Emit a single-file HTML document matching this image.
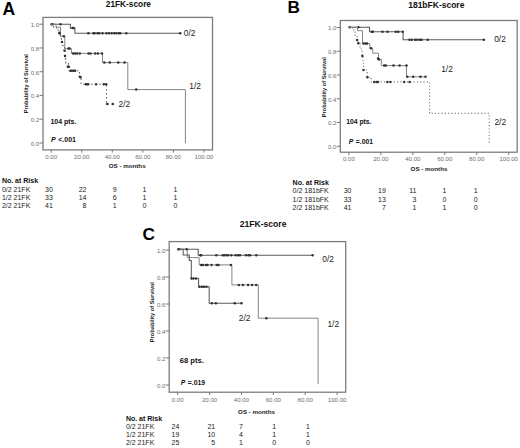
<!DOCTYPE html>
<html><head><meta charset="utf-8"><style>
html,body{margin:0;padding:0;background:#fff;}
body{width:520px;height:448px;overflow:hidden;}
svg{display:block;font-family:"Liberation Sans", sans-serif;}
</style></head><body>
<svg width="520" height="448" viewBox="0 0 520 448">
<rect width="520" height="448" fill="#fff"/>
<rect x="43" y="17.4" width="169.5" height="132.5" fill="none" stroke="#7c7c7c" stroke-width="1.3"/>
<line x1="39.5" y1="143.00" x2="43" y2="143.00" stroke="#777" stroke-width="1"/>
<text x="39.2" y="145.90" font-size="6.1" font-weight="normal" font-style="normal" text-anchor="end" fill="#6e6e6e" >0.0</text>
<line x1="39.5" y1="119.24" x2="43" y2="119.24" stroke="#777" stroke-width="1"/>
<text x="39.2" y="122.14" font-size="6.1" font-weight="normal" font-style="normal" text-anchor="end" fill="#6e6e6e" >0.2</text>
<line x1="39.5" y1="95.48" x2="43" y2="95.48" stroke="#777" stroke-width="1"/>
<text x="39.2" y="98.38" font-size="6.1" font-weight="normal" font-style="normal" text-anchor="end" fill="#6e6e6e" >0.4</text>
<line x1="39.5" y1="71.72" x2="43" y2="71.72" stroke="#777" stroke-width="1"/>
<text x="39.2" y="74.62" font-size="6.1" font-weight="normal" font-style="normal" text-anchor="end" fill="#6e6e6e" >0.6</text>
<line x1="39.5" y1="47.96" x2="43" y2="47.96" stroke="#777" stroke-width="1"/>
<text x="39.2" y="50.86" font-size="6.1" font-weight="normal" font-style="normal" text-anchor="end" fill="#6e6e6e" >0.8</text>
<line x1="39.5" y1="24.20" x2="43" y2="24.20" stroke="#777" stroke-width="1"/>
<text x="39.2" y="27.10" font-size="6.1" font-weight="normal" font-style="normal" text-anchor="end" fill="#6e6e6e" >1.0</text>
<line x1="51.20" y1="149.9" x2="51.20" y2="152.70000000000002" stroke="#777" stroke-width="1"/>
<text x="51.20" y="158.60" font-size="6.1" font-weight="normal" font-style="normal" text-anchor="middle" fill="#6e6e6e" >0.00</text>
<line x1="81.74" y1="149.9" x2="81.74" y2="152.70000000000002" stroke="#777" stroke-width="1"/>
<text x="81.74" y="158.60" font-size="6.1" font-weight="normal" font-style="normal" text-anchor="middle" fill="#6e6e6e" >20.00</text>
<line x1="112.28" y1="149.9" x2="112.28" y2="152.70000000000002" stroke="#777" stroke-width="1"/>
<text x="112.28" y="158.60" font-size="6.1" font-weight="normal" font-style="normal" text-anchor="middle" fill="#6e6e6e" >40.00</text>
<line x1="142.82" y1="149.9" x2="142.82" y2="152.70000000000002" stroke="#777" stroke-width="1"/>
<text x="142.82" y="158.60" font-size="6.1" font-weight="normal" font-style="normal" text-anchor="middle" fill="#6e6e6e" >60.00</text>
<line x1="173.36" y1="149.9" x2="173.36" y2="152.70000000000002" stroke="#777" stroke-width="1"/>
<text x="173.36" y="158.60" font-size="6.1" font-weight="normal" font-style="normal" text-anchor="middle" fill="#6e6e6e" >80.00</text>
<line x1="203.90" y1="149.9" x2="203.90" y2="152.70000000000002" stroke="#777" stroke-width="1"/>
<text x="203.90" y="158.60" font-size="6.1" font-weight="normal" font-style="normal" text-anchor="middle" fill="#6e6e6e" >100.00</text>
<text x="26.4" y="83.7" font-size="5.6" font-weight="bold" font-style="normal" text-anchor="middle" fill="#222" transform="rotate(-90 26.4 83.7)" dy="1.96">Probability of Survival</text>
<text x="108.8" y="168.4" font-size="6.2" font-weight="bold" font-style="normal" text-anchor="start" fill="#222" >OS - months</text>
<text x="105.8" y="6.9" font-size="8.3" font-weight="bold" font-style="normal" text-anchor="start" fill="#111" >21FK-score</text>
<text x="2.6" y="14.8" font-size="17.5" font-weight="bold" font-style="normal" text-anchor="start" fill="#000" >A</text>
<text x="50.4" y="124.0" font-size="7.0" font-weight="bold" font-style="normal" text-anchor="start" fill="#111" >104 pts.</text>
<text x="51.0" y="141.9" font-size="7.0" font-weight="bold" fill="#111"><tspan font-style="italic">P</tspan><tspan dx="0.6">&#160;&lt;.001</tspan></text>
<path d="M51.3,24.2 H70.4 V28.1 H74.9 V33.2 H180.2" fill="none" stroke="#5a5a5a" stroke-width="1.05"/>
<circle cx="51.60" cy="24.20" r="1.25" fill="#333"/>
<circle cx="52.80" cy="24.20" r="1.25" fill="#333"/>
<circle cx="60.50" cy="24.20" r="1.25" fill="#333"/>
<circle cx="72.60" cy="28.10" r="1.25" fill="#333"/>
<circle cx="73.60" cy="28.10" r="1.25" fill="#333"/>
<circle cx="88.30" cy="33.20" r="1.25" fill="#333"/>
<circle cx="93.50" cy="33.20" r="1.25" fill="#333"/>
<circle cx="94.60" cy="33.20" r="1.25" fill="#333"/>
<circle cx="97.50" cy="33.20" r="1.25" fill="#333"/>
<circle cx="99.20" cy="33.20" r="1.25" fill="#333"/>
<circle cx="102.50" cy="33.20" r="1.25" fill="#333"/>
<circle cx="106.40" cy="33.20" r="1.25" fill="#333"/>
<circle cx="109.00" cy="33.20" r="1.25" fill="#333"/>
<circle cx="111.70" cy="33.20" r="1.25" fill="#333"/>
<circle cx="114.20" cy="33.20" r="1.25" fill="#333"/>
<circle cx="116.30" cy="33.20" r="1.25" fill="#333"/>
<circle cx="118.60" cy="33.20" r="1.25" fill="#333"/>
<circle cx="120.20" cy="33.20" r="1.25" fill="#333"/>
<circle cx="126.30" cy="33.20" r="1.25" fill="#333"/>
<circle cx="180.20" cy="33.20" r="1.25" fill="#333"/>
<path d="M51.3,24.2 H56 V27.2 H60.5 V36.2 H64.8 V48.6 H71.4 V53.4 H102.5 V62.6 H127.8 V89.6 H185.4 V143.3" fill="none" stroke="#858585" stroke-width="1"/>
<circle cx="63.80" cy="36.20" r="1.25" fill="#333"/>
<circle cx="68.50" cy="48.60" r="1.25" fill="#333"/>
<circle cx="69.50" cy="48.60" r="1.25" fill="#333"/>
<circle cx="73.10" cy="53.40" r="1.25" fill="#333"/>
<circle cx="75.10" cy="53.40" r="1.25" fill="#333"/>
<circle cx="77.10" cy="53.40" r="1.25" fill="#333"/>
<circle cx="79.80" cy="53.40" r="1.25" fill="#333"/>
<circle cx="88.50" cy="53.40" r="1.25" fill="#333"/>
<circle cx="90.50" cy="53.40" r="1.25" fill="#333"/>
<circle cx="95.20" cy="53.40" r="1.25" fill="#333"/>
<circle cx="97.90" cy="53.40" r="1.25" fill="#333"/>
<circle cx="101.90" cy="53.40" r="1.25" fill="#333"/>
<circle cx="104.30" cy="62.60" r="1.25" fill="#333"/>
<circle cx="109.80" cy="62.60" r="1.25" fill="#333"/>
<circle cx="118.20" cy="62.60" r="1.25" fill="#333"/>
<circle cx="124.50" cy="62.60" r="1.25" fill="#333"/>
<circle cx="136.20" cy="89.60" r="1.25" fill="#333"/>
<path d="M51.3,24.2 H53.5 V27 H56.5 V30 H59.3 V33 H60.5 V36.2 H61.4 V40 H62.3 V45.5 H64.5 V50.4 H65 V56.2 H65.4 V59.3 H65.7 V63.4 H68.4 V66.7 H69 V70.8 H79.5 V76.8 H81.1 V84.3 H106.5 V104 H112.8" fill="none" stroke="#666" stroke-width="1.1" stroke-dasharray="1.6,2.4"/>
<circle cx="59.30" cy="32.70" r="1.25" fill="#333"/>
<circle cx="59.80" cy="33.50" r="1.25" fill="#333"/>
<circle cx="62.00" cy="42.00" r="1.25" fill="#333"/>
<circle cx="64.50" cy="50.50" r="1.25" fill="#333"/>
<circle cx="65.00" cy="56.00" r="1.25" fill="#333"/>
<circle cx="67.80" cy="66.70" r="1.25" fill="#333"/>
<circle cx="68.80" cy="66.70" r="1.25" fill="#333"/>
<circle cx="70.50" cy="70.80" r="1.25" fill="#333"/>
<circle cx="72.00" cy="70.80" r="1.25" fill="#333"/>
<circle cx="74.00" cy="70.80" r="1.25" fill="#333"/>
<circle cx="75.00" cy="70.80" r="1.25" fill="#333"/>
<circle cx="79.80" cy="76.80" r="1.25" fill="#333"/>
<circle cx="80.50" cy="77.20" r="1.25" fill="#333"/>
<circle cx="85.80" cy="84.30" r="1.25" fill="#333"/>
<circle cx="86.80" cy="84.30" r="1.25" fill="#333"/>
<circle cx="88.20" cy="84.30" r="1.25" fill="#333"/>
<circle cx="96.10" cy="84.30" r="1.25" fill="#333"/>
<circle cx="103.80" cy="84.30" r="1.25" fill="#333"/>
<circle cx="106.20" cy="84.30" r="1.25" fill="#333"/>
<circle cx="107.20" cy="104.00" r="1.25" fill="#333"/>
<circle cx="112.80" cy="104.00" r="1.25" fill="#333"/>
<text x="183.8" y="36.2" font-size="8.4" font-weight="normal" font-style="normal" text-anchor="start" fill="#222" >0/2</text>
<text x="189.3" y="89.4" font-size="8.4" font-weight="normal" font-style="normal" text-anchor="start" fill="#222" >1/2</text>
<text x="118.5" y="107.2" font-size="8.4" font-weight="normal" font-style="normal" text-anchor="start" fill="#222" >2/2</text>
<text x="1.9" y="183.4" font-size="7.0" font-weight="bold" font-style="normal" text-anchor="start" fill="#111" >No. at Risk</text>
<text x="1.9" y="191.70" font-size="7.0" font-weight="normal" font-style="normal" text-anchor="start" fill="#222" >0/2 21FK</text>
<text x="52.9" y="191.70" font-size="7.0" font-weight="normal" font-style="normal" text-anchor="end" fill="#222" >30</text>
<text x="86.5" y="191.70" font-size="7.0" font-weight="normal" font-style="normal" text-anchor="end" fill="#222" >22</text>
<text x="116.6" y="191.70" font-size="7.0" font-weight="normal" font-style="normal" text-anchor="end" fill="#222" >9</text>
<text x="146.3" y="191.70" font-size="7.0" font-weight="normal" font-style="normal" text-anchor="end" fill="#222" >1</text>
<text x="177.3" y="191.70" font-size="7.0" font-weight="normal" font-style="normal" text-anchor="end" fill="#222" >1</text>
<text x="1.9" y="200.00" font-size="7.0" font-weight="normal" font-style="normal" text-anchor="start" fill="#222" >1/2 21FK</text>
<text x="52.9" y="200.00" font-size="7.0" font-weight="normal" font-style="normal" text-anchor="end" fill="#222" >33</text>
<text x="86.5" y="200.00" font-size="7.0" font-weight="normal" font-style="normal" text-anchor="end" fill="#222" >14</text>
<text x="116.6" y="200.00" font-size="7.0" font-weight="normal" font-style="normal" text-anchor="end" fill="#222" >6</text>
<text x="146.3" y="200.00" font-size="7.0" font-weight="normal" font-style="normal" text-anchor="end" fill="#222" >1</text>
<text x="177.3" y="200.00" font-size="7.0" font-weight="normal" font-style="normal" text-anchor="end" fill="#222" >1</text>
<text x="1.9" y="208.30" font-size="7.0" font-weight="normal" font-style="normal" text-anchor="start" fill="#222" >2/2 21FK</text>
<text x="52.9" y="208.30" font-size="7.0" font-weight="normal" font-style="normal" text-anchor="end" fill="#222" >41</text>
<text x="86.5" y="208.30" font-size="7.0" font-weight="normal" font-style="normal" text-anchor="end" fill="#222" >8</text>
<text x="116.6" y="208.30" font-size="7.0" font-weight="normal" font-style="normal" text-anchor="end" fill="#222" >1</text>
<text x="146.3" y="208.30" font-size="7.0" font-weight="normal" font-style="normal" text-anchor="end" fill="#222" >0</text>
<text x="177.3" y="208.30" font-size="7.0" font-weight="normal" font-style="normal" text-anchor="end" fill="#222" >0</text>
<rect x="340.3" y="20.5" width="176.90000000000003" height="131.7" fill="none" stroke="#7c7c7c" stroke-width="1.3"/>
<line x1="336.8" y1="146.30" x2="340.3" y2="146.30" stroke="#777" stroke-width="1"/>
<text x="336.5" y="149.20" font-size="6.1" font-weight="normal" font-style="normal" text-anchor="end" fill="#6e6e6e" >0.0</text>
<line x1="336.8" y1="122.54" x2="340.3" y2="122.54" stroke="#777" stroke-width="1"/>
<text x="336.5" y="125.44" font-size="6.1" font-weight="normal" font-style="normal" text-anchor="end" fill="#6e6e6e" >0.2</text>
<line x1="336.8" y1="98.78" x2="340.3" y2="98.78" stroke="#777" stroke-width="1"/>
<text x="336.5" y="101.68" font-size="6.1" font-weight="normal" font-style="normal" text-anchor="end" fill="#6e6e6e" >0.4</text>
<line x1="336.8" y1="75.02" x2="340.3" y2="75.02" stroke="#777" stroke-width="1"/>
<text x="336.5" y="77.92" font-size="6.1" font-weight="normal" font-style="normal" text-anchor="end" fill="#6e6e6e" >0.6</text>
<line x1="336.8" y1="51.26" x2="340.3" y2="51.26" stroke="#777" stroke-width="1"/>
<text x="336.5" y="54.16" font-size="6.1" font-weight="normal" font-style="normal" text-anchor="end" fill="#6e6e6e" >0.8</text>
<line x1="336.8" y1="27.50" x2="340.3" y2="27.50" stroke="#777" stroke-width="1"/>
<text x="336.5" y="30.40" font-size="6.1" font-weight="normal" font-style="normal" text-anchor="end" fill="#6e6e6e" >1.0</text>
<line x1="348.90" y1="152.2" x2="348.90" y2="155.0" stroke="#777" stroke-width="1"/>
<text x="348.90" y="160.80" font-size="6.1" font-weight="normal" font-style="normal" text-anchor="middle" fill="#6e6e6e" >0.00</text>
<line x1="380.86" y1="152.2" x2="380.86" y2="155.0" stroke="#777" stroke-width="1"/>
<text x="380.86" y="160.80" font-size="6.1" font-weight="normal" font-style="normal" text-anchor="middle" fill="#6e6e6e" >20.00</text>
<line x1="412.82" y1="152.2" x2="412.82" y2="155.0" stroke="#777" stroke-width="1"/>
<text x="412.82" y="160.80" font-size="6.1" font-weight="normal" font-style="normal" text-anchor="middle" fill="#6e6e6e" >40.00</text>
<line x1="444.78" y1="152.2" x2="444.78" y2="155.0" stroke="#777" stroke-width="1"/>
<text x="444.78" y="160.80" font-size="6.1" font-weight="normal" font-style="normal" text-anchor="middle" fill="#6e6e6e" >60.00</text>
<line x1="476.74" y1="152.2" x2="476.74" y2="155.0" stroke="#777" stroke-width="1"/>
<text x="476.74" y="160.80" font-size="6.1" font-weight="normal" font-style="normal" text-anchor="middle" fill="#6e6e6e" >80.00</text>
<line x1="508.70" y1="152.2" x2="508.70" y2="155.0" stroke="#777" stroke-width="1"/>
<text x="508.70" y="160.80" font-size="6.1" font-weight="normal" font-style="normal" text-anchor="middle" fill="#6e6e6e" >100.00</text>
<text x="324.3" y="87.2" font-size="5.7" font-weight="bold" font-style="normal" text-anchor="middle" fill="#222" transform="rotate(-90 324.3 87.2)" dy="1.99">Probability of Survival</text>
<text x="410.6" y="170.8" font-size="6.2" font-weight="bold" font-style="normal" text-anchor="start" fill="#222" >OS - months</text>
<text x="408.2" y="8.0" font-size="8.5" font-weight="bold" font-style="normal" text-anchor="start" fill="#111" >181bFK-score</text>
<text x="287.6" y="13.1" font-size="17.2" font-weight="bold" font-style="normal" text-anchor="start" fill="#000" >B</text>
<text x="346.2" y="123.8" font-size="6.8" font-weight="bold" font-style="normal" text-anchor="start" fill="#111" >104 pts.</text>
<text x="348.8" y="143.8" font-size="6.8" font-weight="bold" fill="#111"><tspan font-style="italic">P</tspan><tspan dx="0.6"> =.001</tspan></text>
<path d="M349.4,27.3 H369.5 V31.8 H403.1 V39.8 H484.3" fill="none" stroke="#5a5a5a" stroke-width="1.05"/>
<circle cx="349.60" cy="27.30" r="1.25" fill="#333"/>
<circle cx="358.30" cy="27.30" r="1.25" fill="#333"/>
<circle cx="371.80" cy="31.80" r="1.25" fill="#333"/>
<circle cx="372.80" cy="31.80" r="1.25" fill="#333"/>
<circle cx="382.50" cy="31.80" r="1.25" fill="#333"/>
<circle cx="387.50" cy="31.80" r="1.25" fill="#333"/>
<circle cx="395.80" cy="31.80" r="1.25" fill="#333"/>
<circle cx="398.30" cy="31.80" r="1.25" fill="#333"/>
<circle cx="402.70" cy="31.80" r="1.25" fill="#333"/>
<circle cx="409.50" cy="39.80" r="1.25" fill="#333"/>
<circle cx="411.80" cy="39.80" r="1.25" fill="#333"/>
<circle cx="415.20" cy="39.80" r="1.25" fill="#333"/>
<circle cx="417.30" cy="39.80" r="1.25" fill="#333"/>
<circle cx="419.90" cy="39.80" r="1.25" fill="#333"/>
<circle cx="421.60" cy="39.80" r="1.25" fill="#333"/>
<circle cx="427.70" cy="39.80" r="1.25" fill="#333"/>
<circle cx="483.90" cy="39.80" r="1.25" fill="#333"/>
<path d="M349.4,27.3 H357.5 V30.7 H362.5 V43.6 H369.8 V48.3 H372.7 V53.2 H378.5 V59.5 H381.3 V65.6 H406.5 V76.8 H425.8" fill="none" stroke="#858585" stroke-width="1"/>
<circle cx="363.50" cy="43.60" r="1.25" fill="#333"/>
<circle cx="365.50" cy="43.60" r="1.25" fill="#333"/>
<circle cx="367.00" cy="43.60" r="1.25" fill="#333"/>
<circle cx="371.00" cy="48.30" r="1.25" fill="#333"/>
<circle cx="378.00" cy="58.60" r="1.25" fill="#333"/>
<circle cx="379.00" cy="59.50" r="1.25" fill="#333"/>
<circle cx="384.20" cy="65.60" r="1.25" fill="#333"/>
<circle cx="385.80" cy="65.60" r="1.25" fill="#333"/>
<circle cx="393.50" cy="65.60" r="1.25" fill="#333"/>
<circle cx="399.60" cy="65.60" r="1.25" fill="#333"/>
<circle cx="406.50" cy="65.60" r="1.25" fill="#333"/>
<circle cx="407.30" cy="76.80" r="1.25" fill="#333"/>
<circle cx="413.20" cy="76.80" r="1.25" fill="#333"/>
<circle cx="420.40" cy="76.80" r="1.25" fill="#333"/>
<circle cx="425.50" cy="76.80" r="1.25" fill="#333"/>
<path d="M349.4,27.3 H352.5 V30.1 H355 V35 H357.1 V39.9 H358.3 V43.3 H360 V49 H362.3 V56 H363 V61 H363.5 V70 H367.3 V77.3 H371.2 V81.9 H429.6 V113.4 H489.2 V144.2" fill="none" stroke="#777" stroke-width="1.1" stroke-dasharray="1.1,2.2"/>
<circle cx="357.10" cy="39.90" r="1.25" fill="#333"/>
<circle cx="358.30" cy="43.30" r="1.25" fill="#333"/>
<circle cx="362.30" cy="56.00" r="1.25" fill="#333"/>
<circle cx="363.50" cy="70.00" r="1.25" fill="#333"/>
<circle cx="367.30" cy="77.30" r="1.25" fill="#333"/>
<circle cx="374.20" cy="81.90" r="1.25" fill="#333"/>
<circle cx="376.50" cy="81.90" r="1.25" fill="#333"/>
<circle cx="378.00" cy="81.90" r="1.25" fill="#333"/>
<circle cx="387.30" cy="81.90" r="1.25" fill="#333"/>
<circle cx="390.40" cy="81.90" r="1.25" fill="#333"/>
<circle cx="404.20" cy="81.90" r="1.25" fill="#333"/>
<circle cx="409.60" cy="81.90" r="1.25" fill="#333"/>
<text x="494.2" y="42.3" font-size="8.4" font-weight="normal" font-style="normal" text-anchor="start" fill="#222" >0/2</text>
<text x="441.2" y="71.5" font-size="8.4" font-weight="normal" font-style="normal" text-anchor="start" fill="#222" >1/2</text>
<text x="494.4" y="125.0" font-size="8.4" font-weight="normal" font-style="normal" text-anchor="start" fill="#222" >2/2</text>
<text x="292.6" y="185.0" font-size="7.0" font-weight="bold" font-style="normal" text-anchor="start" fill="#111" >No. at Risk</text>
<text x="292.6" y="193.30" font-size="7.0" font-weight="normal" font-style="normal" text-anchor="start" fill="#222" >0/2 181bFK</text>
<text x="351.5" y="193.30" font-size="7.0" font-weight="normal" font-style="normal" text-anchor="end" fill="#222" >30</text>
<text x="385.8" y="193.30" font-size="7.0" font-weight="normal" font-style="normal" text-anchor="end" fill="#222" >19</text>
<text x="416.5" y="193.30" font-size="7.0" font-weight="normal" font-style="normal" text-anchor="end" fill="#222" >11</text>
<text x="446.5" y="193.30" font-size="7.0" font-weight="normal" font-style="normal" text-anchor="end" fill="#222" >1</text>
<text x="477.6" y="193.30" font-size="7.0" font-weight="normal" font-style="normal" text-anchor="end" fill="#222" >1</text>
<text x="292.6" y="201.60" font-size="7.0" font-weight="normal" font-style="normal" text-anchor="start" fill="#222" >1/2 181bFK</text>
<text x="351.5" y="201.60" font-size="7.0" font-weight="normal" font-style="normal" text-anchor="end" fill="#222" >33</text>
<text x="385.8" y="201.60" font-size="7.0" font-weight="normal" font-style="normal" text-anchor="end" fill="#222" >13</text>
<text x="416.5" y="201.60" font-size="7.0" font-weight="normal" font-style="normal" text-anchor="end" fill="#222" >3</text>
<text x="446.5" y="201.60" font-size="7.0" font-weight="normal" font-style="normal" text-anchor="end" fill="#222" >0</text>
<text x="477.6" y="201.60" font-size="7.0" font-weight="normal" font-style="normal" text-anchor="end" fill="#222" >0</text>
<text x="292.6" y="209.90" font-size="7.0" font-weight="normal" font-style="normal" text-anchor="start" fill="#222" >2/2 181bFK</text>
<text x="351.5" y="209.90" font-size="7.0" font-weight="normal" font-style="normal" text-anchor="end" fill="#222" >41</text>
<text x="385.8" y="209.90" font-size="7.0" font-weight="normal" font-style="normal" text-anchor="end" fill="#222" >7</text>
<text x="416.5" y="209.90" font-size="7.0" font-weight="normal" font-style="normal" text-anchor="end" fill="#222" >1</text>
<text x="446.5" y="209.90" font-size="7.0" font-weight="normal" font-style="normal" text-anchor="end" fill="#222" >1</text>
<text x="477.6" y="209.90" font-size="7.0" font-weight="normal" font-style="normal" text-anchor="end" fill="#222" >0</text>
<rect x="169.2" y="241.6" width="176.5" height="150.6" fill="none" stroke="#7c7c7c" stroke-width="1.3"/>
<line x1="165.7" y1="385.00" x2="169.2" y2="385.00" stroke="#777" stroke-width="1"/>
<text x="165.39999999999998" y="387.90" font-size="6.1" font-weight="normal" font-style="normal" text-anchor="end" fill="#6e6e6e" >0.0</text>
<line x1="165.7" y1="358.00" x2="169.2" y2="358.00" stroke="#777" stroke-width="1"/>
<text x="165.39999999999998" y="360.90" font-size="6.1" font-weight="normal" font-style="normal" text-anchor="end" fill="#6e6e6e" >0.2</text>
<line x1="165.7" y1="331.00" x2="169.2" y2="331.00" stroke="#777" stroke-width="1"/>
<text x="165.39999999999998" y="333.90" font-size="6.1" font-weight="normal" font-style="normal" text-anchor="end" fill="#6e6e6e" >0.4</text>
<line x1="165.7" y1="304.00" x2="169.2" y2="304.00" stroke="#777" stroke-width="1"/>
<text x="165.39999999999998" y="306.90" font-size="6.1" font-weight="normal" font-style="normal" text-anchor="end" fill="#6e6e6e" >0.6</text>
<line x1="165.7" y1="277.00" x2="169.2" y2="277.00" stroke="#777" stroke-width="1"/>
<text x="165.39999999999998" y="279.90" font-size="6.1" font-weight="normal" font-style="normal" text-anchor="end" fill="#6e6e6e" >0.8</text>
<line x1="165.7" y1="250.00" x2="169.2" y2="250.00" stroke="#777" stroke-width="1"/>
<text x="165.39999999999998" y="252.90" font-size="6.1" font-weight="normal" font-style="normal" text-anchor="end" fill="#6e6e6e" >1.0</text>
<line x1="177.70" y1="392.2" x2="177.70" y2="395.0" stroke="#777" stroke-width="1"/>
<text x="177.70" y="401.80" font-size="6.1" font-weight="normal" font-style="normal" text-anchor="middle" fill="#6e6e6e" >0.00</text>
<line x1="209.58" y1="392.2" x2="209.58" y2="395.0" stroke="#777" stroke-width="1"/>
<text x="209.58" y="401.80" font-size="6.1" font-weight="normal" font-style="normal" text-anchor="middle" fill="#6e6e6e" >20.00</text>
<line x1="241.46" y1="392.2" x2="241.46" y2="395.0" stroke="#777" stroke-width="1"/>
<text x="241.46" y="401.80" font-size="6.1" font-weight="normal" font-style="normal" text-anchor="middle" fill="#6e6e6e" >40.00</text>
<line x1="273.34" y1="392.2" x2="273.34" y2="395.0" stroke="#777" stroke-width="1"/>
<text x="273.34" y="401.80" font-size="6.1" font-weight="normal" font-style="normal" text-anchor="middle" fill="#6e6e6e" >60.00</text>
<line x1="305.22" y1="392.2" x2="305.22" y2="395.0" stroke="#777" stroke-width="1"/>
<text x="305.22" y="401.80" font-size="6.1" font-weight="normal" font-style="normal" text-anchor="middle" fill="#6e6e6e" >80.00</text>
<line x1="337.10" y1="392.2" x2="337.10" y2="395.0" stroke="#777" stroke-width="1"/>
<text x="337.10" y="401.80" font-size="6.1" font-weight="normal" font-style="normal" text-anchor="middle" fill="#6e6e6e" >100.00</text>
<text x="152.5" y="312.2" font-size="5.7" font-weight="bold" font-style="normal" text-anchor="middle" fill="#222" transform="rotate(-90 152.5 312.2)" dy="1.99">Probability of Survival</text>
<text x="238.1" y="413.5" font-size="6.2" font-weight="bold" font-style="normal" text-anchor="start" fill="#222" >OS - months</text>
<text x="239.7" y="227.3" font-size="8.6" font-weight="bold" font-style="normal" text-anchor="start" fill="#111" >21FK-score</text>
<text x="142.6" y="240.0" font-size="17.2" font-weight="bold" font-style="normal" text-anchor="start" fill="#000" >C</text>
<text x="179.8" y="362.5" font-size="7.6" font-weight="bold" font-style="normal" text-anchor="start" fill="#111" >68 pts.</text>
<text x="180.8" y="384.6" font-size="6.8" font-weight="bold" fill="#111"><tspan font-style="italic">P</tspan><tspan dx="0.6"> =.019</tspan></text>
<path d="M178.3,249.3 H198.2 V255.2 H312.6" fill="none" stroke="#5a5a5a" stroke-width="1.05"/>
<circle cx="178.30" cy="249.30" r="1.25" fill="#333"/>
<circle cx="179.30" cy="249.30" r="1.25" fill="#333"/>
<circle cx="200.30" cy="255.20" r="1.25" fill="#333"/>
<circle cx="201.20" cy="255.20" r="1.25" fill="#333"/>
<circle cx="216.30" cy="255.20" r="1.25" fill="#333"/>
<circle cx="222.80" cy="255.20" r="1.25" fill="#333"/>
<circle cx="224.40" cy="255.20" r="1.25" fill="#333"/>
<circle cx="226.30" cy="255.20" r="1.25" fill="#333"/>
<circle cx="228.10" cy="255.20" r="1.25" fill="#333"/>
<circle cx="231.30" cy="255.20" r="1.25" fill="#333"/>
<circle cx="235.60" cy="255.20" r="1.25" fill="#333"/>
<circle cx="238.10" cy="255.20" r="1.25" fill="#333"/>
<circle cx="240.00" cy="255.20" r="1.25" fill="#333"/>
<circle cx="246.00" cy="255.20" r="1.25" fill="#333"/>
<circle cx="248.50" cy="255.20" r="1.25" fill="#333"/>
<circle cx="250.00" cy="255.20" r="1.25" fill="#333"/>
<circle cx="256.30" cy="255.20" r="1.25" fill="#333"/>
<circle cx="312.60" cy="255.20" r="1.25" fill="#333"/>
<path d="M178.3,249.3 H187.3 V257.6 H199.2 V264.9 H231.9 V284.9 H258.3 V318.2 H318.1 V384" fill="none" stroke="#858585" stroke-width="1"/>
<circle cx="186.70" cy="249.30" r="1.25" fill="#333"/>
<circle cx="201.20" cy="264.90" r="1.25" fill="#333"/>
<circle cx="202.90" cy="264.90" r="1.25" fill="#333"/>
<circle cx="205.80" cy="264.90" r="1.25" fill="#333"/>
<circle cx="207.50" cy="264.90" r="1.25" fill="#333"/>
<circle cx="211.50" cy="264.90" r="1.25" fill="#333"/>
<circle cx="216.70" cy="264.90" r="1.25" fill="#333"/>
<circle cx="218.50" cy="264.90" r="1.25" fill="#333"/>
<circle cx="230.90" cy="264.90" r="1.25" fill="#333"/>
<circle cx="238.80" cy="284.90" r="1.25" fill="#333"/>
<circle cx="242.90" cy="284.90" r="1.25" fill="#333"/>
<circle cx="248.10" cy="284.90" r="1.25" fill="#333"/>
<circle cx="252.10" cy="284.90" r="1.25" fill="#333"/>
<circle cx="256.20" cy="284.90" r="1.25" fill="#333"/>
<circle cx="266.30" cy="318.20" r="1.25" fill="#333"/>
<path d="M178.3,249.3 H183.2 V255 H189.3 V260.5 H191.3 V278.5 H198.6 V286.8 H209.2 V303.3 H242.1" fill="none" stroke="#5a5a5a" stroke-width="1.05"/>
<circle cx="191.50" cy="278.50" r="1.25" fill="#333"/>
<circle cx="193.50" cy="278.50" r="1.25" fill="#333"/>
<circle cx="196.00" cy="278.50" r="1.25" fill="#333"/>
<circle cx="199.50" cy="286.80" r="1.25" fill="#333"/>
<circle cx="202.00" cy="286.80" r="1.25" fill="#333"/>
<circle cx="204.00" cy="286.80" r="1.25" fill="#333"/>
<circle cx="206.50" cy="286.80" r="1.25" fill="#333"/>
<circle cx="211.80" cy="303.30" r="1.25" fill="#333"/>
<circle cx="215.90" cy="303.30" r="1.25" fill="#333"/>
<circle cx="234.80" cy="303.30" r="1.25" fill="#333"/>
<circle cx="241.50" cy="303.30" r="1.25" fill="#333"/>
<text x="322.3" y="261.7" font-size="8.4" font-weight="normal" font-style="normal" text-anchor="start" fill="#222" >0/2</text>
<text x="327.4" y="326.7" font-size="8.4" font-weight="normal" font-style="normal" text-anchor="start" fill="#222" >1/2</text>
<text x="238.8" y="321.3" font-size="8.4" font-weight="normal" font-style="normal" text-anchor="start" fill="#222" >2/2</text>
<text x="125.9" y="420.8" font-size="7.0" font-weight="bold" font-style="normal" text-anchor="start" fill="#111" >No. at Risk</text>
<text x="125.9" y="428.90" font-size="7.0" font-weight="normal" font-style="normal" text-anchor="start" fill="#222" >0/2 21FK</text>
<text x="179.3" y="428.90" font-size="7.0" font-weight="normal" font-style="normal" text-anchor="end" fill="#222" >24</text>
<text x="215.2" y="428.90" font-size="7.0" font-weight="normal" font-style="normal" text-anchor="end" fill="#222" >21</text>
<text x="242.8" y="428.90" font-size="7.0" font-weight="normal" font-style="normal" text-anchor="end" fill="#222" >7</text>
<text x="276.2" y="428.90" font-size="7.0" font-weight="normal" font-style="normal" text-anchor="end" fill="#222" >1</text>
<text x="310.0" y="428.90" font-size="7.0" font-weight="normal" font-style="normal" text-anchor="end" fill="#222" >1</text>
<text x="125.9" y="437.00" font-size="7.0" font-weight="normal" font-style="normal" text-anchor="start" fill="#222" >1/2 21FK</text>
<text x="179.3" y="437.00" font-size="7.0" font-weight="normal" font-style="normal" text-anchor="end" fill="#222" >19</text>
<text x="215.2" y="437.00" font-size="7.0" font-weight="normal" font-style="normal" text-anchor="end" fill="#222" >10</text>
<text x="242.8" y="437.00" font-size="7.0" font-weight="normal" font-style="normal" text-anchor="end" fill="#222" >4</text>
<text x="276.2" y="437.00" font-size="7.0" font-weight="normal" font-style="normal" text-anchor="end" fill="#222" >1</text>
<text x="310.0" y="437.00" font-size="7.0" font-weight="normal" font-style="normal" text-anchor="end" fill="#222" >1</text>
<text x="125.9" y="445.10" font-size="7.0" font-weight="normal" font-style="normal" text-anchor="start" fill="#222" >2/2 21FK</text>
<text x="179.3" y="445.10" font-size="7.0" font-weight="normal" font-style="normal" text-anchor="end" fill="#222" >25</text>
<text x="215.2" y="445.10" font-size="7.0" font-weight="normal" font-style="normal" text-anchor="end" fill="#222" >5</text>
<text x="242.8" y="445.10" font-size="7.0" font-weight="normal" font-style="normal" text-anchor="end" fill="#222" >1</text>
<text x="276.2" y="445.10" font-size="7.0" font-weight="normal" font-style="normal" text-anchor="end" fill="#222" >0</text>
<text x="310.0" y="445.10" font-size="7.0" font-weight="normal" font-style="normal" text-anchor="end" fill="#222" >0</text>
</svg>
</body></html>
